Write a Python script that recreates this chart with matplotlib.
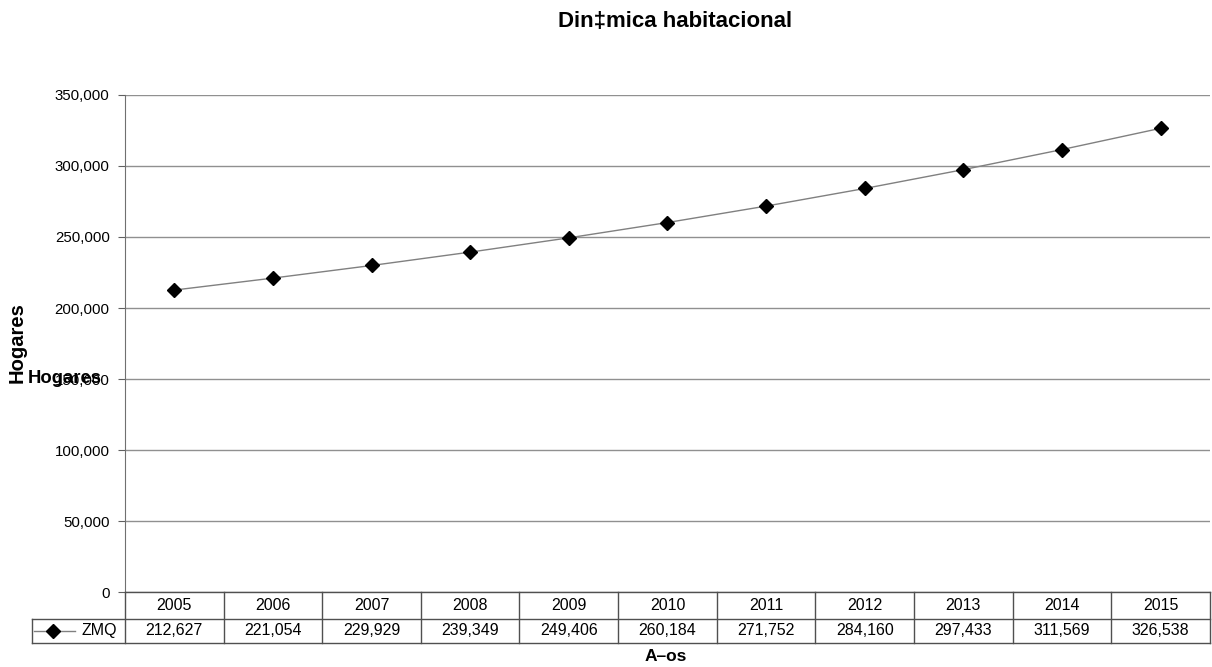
import matplotlib
matplotlib.use("Agg")
import matplotlib.pyplot as plt
import matplotlib.transforms as mtransforms
from matplotlib.lines import Line2D
from matplotlib.ticker import FuncFormatter

plt.rcParams['font.family'] = ['Liberation Sans', 'DejaVu Sans']

years = ['2005', '2006', '2007', '2008', '2009', '2010',
         '2011', '2012', '2013', '2014', '2015']
zmq = [212627, 221054, 229929, 239349, 249406, 260184,
       271752, 284160, 297433, 311569, 326538]
serie = 'ZMQ'

fig = plt.figure(figsize=(12.12, 6.67), dpi=100)
ax = fig.add_axes([0.1031, 0.1124, 0.8952, 0.7452])

x = list(range(len(years)))
ax.plot(x, zmq, color='#808080', linewidth=1, marker='D', markersize=7,
        markerfacecolor='black', markeredgecolor='black', zorder=3)

ax.set_xlim(-0.5, len(years) - 0.5)
ax.set_ylim(0, 350000)
ax.set_yticks(range(0, 350001, 50000))
ax.yaxis.set_major_formatter(FuncFormatter(lambda v, p: f'{int(v):,}'))
ax.tick_params(axis='y', labelsize=10.8, length=5, color='#606060', pad=6)
ax.set_xticks([])
ax.grid(axis='y', color='#909090', linewidth=1)
for s in ['top', 'right', 'bottom']:
    ax.spines[s].set_visible(False)
ax.spines['left'].set_color('#707070')

# tabla de datos bajo el eje
y_top, y_mid, y_bot = 0.1124, 0.0720, 0.0360
bt = mtransforms.blended_transform_factory(ax.transData, fig.transFigure)
lc = '#505050'
x_leg = 32 / 1212
fig.add_artist(Line2D([0.1031, 0.9983], [y_top, y_top], color=lc, lw=1))
fig.add_artist(Line2D([x_leg, 0.9983], [y_mid, y_mid], color=lc, lw=1))
fig.add_artist(Line2D([x_leg, 0.9983], [y_bot, y_bot], color=lc, lw=1))
fig.add_artist(Line2D([x_leg, x_leg], [y_mid, y_bot], color=lc, lw=1))
fig.add_artist(Line2D([0.1031, 0.1031], [y_top, y_bot], color=lc, lw=1))
for i in range(len(years)):
    xb = i + 0.5
    ax.add_line(Line2D([xb, xb], [y_top, y_bot], transform=bt, color=lc,
                       lw=1, clip_on=False))
    ax.text(i, (y_top + y_mid) / 2, years[i], transform=bt, ha='center',
            va='center', fontsize=11.5)
    ax.text(i, (y_mid + y_bot) / 2, f'{zmq[i]:,}', transform=bt,
            ha='center', va='center', fontsize=11.5)

# clave de la serie
ym = (y_mid + y_bot) / 2
fig.add_artist(Line2D([34 / 1212, 75 / 1212], [ym, ym], color='#808080', lw=1))
fig.add_artist(Line2D([53 / 1212], [ym], marker='D', markersize=7,
                      color='black', linestyle='none'))
fig.text(117 / 1212, ym, serie, ha='right', va='center', fontsize=11.5)

fig.text(0.557, 0.968, 'Din‡mica habitacional', ha='center', va='center',
         fontsize=16, fontweight='bold')
fig.text(0.014, 0.4865, 'Hogares', rotation=90, ha='center', va='center',
         fontsize=14.5, fontweight='bold')
fig.text(28 / 1212, 0.433, 'Hogares', ha='left', va='center',
         fontsize=13.3, fontweight='bold')
fig.text(0.5495, 0.015, 'A–os', ha='center', va='center',
         fontsize=12.5, fontweight='bold')

fig.savefig('out.png', dpi=100)
